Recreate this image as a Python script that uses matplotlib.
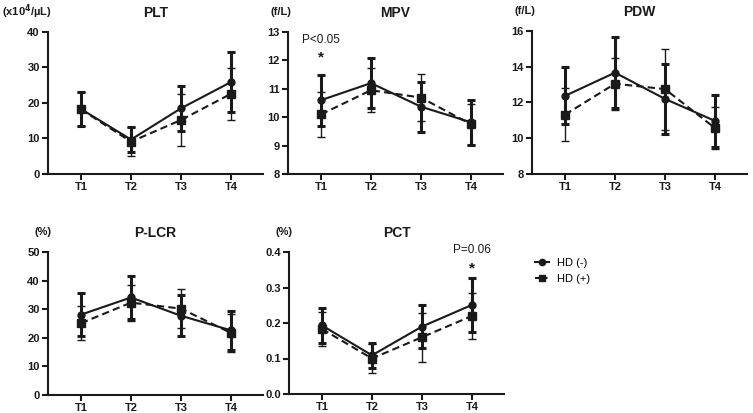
import matplotlib
matplotlib.use("Agg")
import matplotlib.pyplot as plt
from matplotlib.lines import Line2D

plt.rcParams['font.family'] = ['Liberation Sans', 'DejaVu Sans']

times = ["T1", "T2", "T3", "T4"]
groups = ["HD (-)", "HD (+)"]

# mean / SD, per panel
plt_neg = [18.3, 9.7, 18.5, 25.9]
plt_neg_sd = [4.85, 3.45, 6.4, 8.4]
plt_pos = [18.2, 9.1, 15.2, 22.6]
plt_pos_sd = [4.8, 4.1, 7.35, 7.35]

mpv_neg = [10.6, 11.2, 10.37, 9.82]
mpv_neg_sd = [0.9, 0.88, 0.88, 0.8]
mpv_pos = [10.1, 10.95, 10.69, 9.75]
mpv_pos_sd = [0.8, 0.78, 0.82, 0.72]

pdw_neg = [12.37, 13.67, 12.2, 10.97]
pdw_neg_sd = [1.6, 1.97, 1.97, 1.45]
pdw_pos = [11.32, 13.05, 12.75, 10.57]
pdw_pos_sd = [1.5, 1.45, 2.27, 1.18]

plcr_neg = [28.1, 34.1, 27.7, 22.6]
plcr_neg_sd = [7.45, 7.6, 7.1, 6.9]
plcr_pos = [25.1, 32.3, 30.2, 21.7]
plcr_pos_sd = [6.0, 6.3, 6.9, 6.5]

pct_neg = [0.193, 0.109, 0.19, 0.251]
pct_neg_sd = [0.049, 0.035, 0.061, 0.077]
pct_pos = [0.183, 0.10, 0.16, 0.22]
pct_pos_sd = [0.047, 0.04, 0.069, 0.064]

W, H = 753, 413
fig = plt.figure(figsize=(W / 100, H / 100), dpi=100)
INK = "#1a1a1a"


def make_ax(left_px, top_px, bottom_px):
    return fig.add_axes([left_px / W, 1 - bottom_px / H, 215 / W, (bottom_px - top_px) / H])


def panel(ax, title, unit, neg, neg_sd, pos, pos_sd, ylim, yticks, fmt="{:g}"):
    x = [1, 2, 3, 4]
    ax.errorbar(x, pos, yerr=pos_sd, color=INK, ls=(0, (3.5, 2)), lw=1.5,
                marker="s", ms=5.5, elinewidth=1, capsize=3, capthick=1)
    ax.errorbar(x, neg, yerr=neg_sd, color=INK, ls="-", lw=1.5,
                marker="o", ms=5, elinewidth=2.2, capsize=3, capthick=2.2)
    ax.set_xlim(0.34, 4.64)
    ax.set_ylim(*ylim)
    ax.set_yticks(yticks)
    ax.set_yticklabels([fmt.format(v) for v in yticks])
    ax.set_xticks(x)
    ax.set_xticklabels(times)
    for s in ["top", "right"]:
        ax.spines[s].set_visible(False)
    for s in ["left", "bottom"]:
        ax.spines[s].set_linewidth(1.5)
        ax.spines[s].set_color(INK)
    ax.tick_params(direction="out", length=4, width=1.5, labelsize=8, pad=2, colors=INK)
    for lab in ax.get_xticklabels() + ax.get_yticklabels():
        lab.set_fontweight("bold")
    ax.set_title(title, fontsize=10, fontweight="bold", pad=11, color=INK)
    ax.text(0.015, 1.14, unit, transform=ax.transAxes, ha="right", va="center",
            fontsize=8, fontweight="bold", color=INK)


ax1 = make_ax(48, 32, 174)
panel(ax1, "PLT", r"(x10$^{\mathbf{4}}$/µL)", plt_neg, plt_neg_sd, plt_pos, plt_pos_sd,
      (0, 40), [0, 10, 20, 30, 40])

ax2 = make_ax(288, 32, 174)
panel(ax2, "MPV", "(f/L)", mpv_neg, mpv_neg_sd, mpv_pos, mpv_pos_sd,
      (8, 13), [8, 9, 10, 11, 12, 13])
ax2.text(1, 12.72, "P<0.05", ha="center", va="center", fontsize=8.5, color=INK)
ax2.text(1, 12.1, "*", ha="center", va="center", fontsize=11, fontweight="bold", color=INK)

ax3 = make_ax(532, 31, 174)
panel(ax3, "PDW", "(f/L)", pdw_neg, pdw_neg_sd, pdw_pos, pdw_pos_sd,
      (8, 16), [8, 10, 12, 14, 16])

ax4 = make_ax(48, 252, 395)
panel(ax4, "P-LCR", "(%)", plcr_neg, plcr_neg_sd, plcr_pos, plcr_pos_sd,
      (0, 50), [0, 10, 20, 30, 40, 50])

ax5 = make_ax(289, 252, 394)
panel(ax5, "PCT", "(%)", pct_neg, pct_neg_sd, pct_pos, pct_pos_sd,
      (0, 0.4), [0, 0.1, 0.2, 0.3, 0.4], fmt="{:.1f}")
ax5.text(4, 0.405, "P=0.06", ha="center", va="center", fontsize=8.5, color=INK)
ax5.text(4, 0.355, "*", ha="center", va="center", fontsize=11, fontweight="bold", color=INK)

handles = [
    Line2D([], [], color=INK, ls="-", lw=1.5, marker="o", ms=4.5),
    Line2D([], [], color=INK, ls=(0, (2, 2)), lw=1.5, marker="s", ms=4.5),
]
fig.legend(handles, groups, loc="center left", bbox_to_anchor=(525 / W, 1 - 271 / H),
           frameon=False, fontsize=8, handlelength=1.3, handletextpad=0.7, labelspacing=0.6)

fig.savefig("out.png", dpi=100)
